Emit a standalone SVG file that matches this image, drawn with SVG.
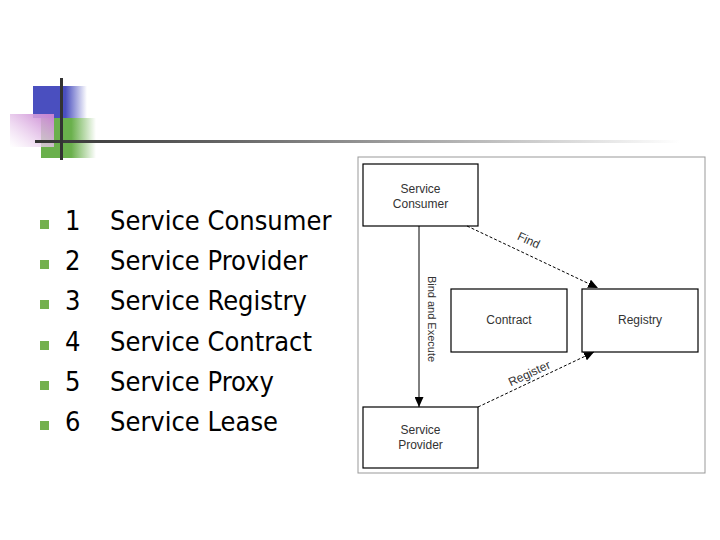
<svg xmlns="http://www.w3.org/2000/svg" width="720" height="540" viewBox="0 0 720 540">
<defs>
<linearGradient id="gBlue" x1="0" y1="0" x2="1" y2="0">
<stop offset="0" stop-color="#4a4fbf"/><stop offset="0.6" stop-color="#4a4fbf"/><stop offset="1" stop-color="#4a4fbf" stop-opacity="0"/>
</linearGradient>
<linearGradient id="gGreen" x1="0" y1="0" x2="1" y2="0">
<stop offset="0" stop-color="#6ab04c"/><stop offset="0.55" stop-color="#6ab04c"/><stop offset="1" stop-color="#6ab04c" stop-opacity="0"/>
</linearGradient>
<linearGradient id="gPink" x1="1" y1="0" x2="0" y2="1">
<stop offset="0" stop-color="#c77fd0"/><stop offset="1" stop-color="#ffffff" stop-opacity="0.6"/>
</linearGradient>
<linearGradient id="gLine" x1="0" y1="0" x2="1" y2="0">
<stop offset="0" stop-color="#333333"/><stop offset="0.3" stop-color="#666666"/><stop offset="1" stop-color="#ffffff"/>
</linearGradient>
<marker id="arr" viewBox="0 0 10 10" refX="10" refY="5" markerWidth="10" markerHeight="9" markerUnits="userSpaceOnUse" orient="auto" preserveAspectRatio="none">
<path d="M0,0 L10,5 L0,10 z" fill="#000"/>
</marker>
<style>
.list{font-family:"DejaVu Sans Condensed","DejaVu Sans",sans-serif;font-size:27px;fill:#000}
.bul{fill:#74b04e}
.box{fill:#fff;stroke:#000;stroke-width:1.2}
.lbl{font-family:"Liberation Sans",Arial,sans-serif;font-size:12px;fill:#333;text-anchor:middle}
.elbl{font-family:"Liberation Sans",Arial,sans-serif;font-size:11px;fill:#333;text-anchor:middle}
.elbl2{font-family:"Liberation Sans",Arial,sans-serif;font-size:12px;fill:#333;text-anchor:middle}
.edge{fill:none;stroke:#000;stroke-width:1}
.dash{stroke-dasharray:3,2}
</style>
</defs>
<g id="decoration">
<rect x="33" y="86" width="54" height="32" fill="url(#gBlue)"/>
<rect x="41" y="118" width="55" height="40" fill="url(#gGreen)"/>
<rect x="10" y="114" width="44" height="33" fill="url(#gPink)"/>
<rect x="35" y="140" width="645" height="3" fill="url(#gLine)"/>
<rect x="60" y="78" width="3" height="82" fill="#333"/>
</g>
<g id="list">
<rect class="bul" x="40" y="220" width="9" height="9"/>
<rect class="bul" x="40" y="260" width="9" height="9"/>
<rect class="bul" x="40" y="300" width="9" height="9"/>
<rect class="bul" x="40" y="341" width="9" height="9"/>
<rect class="bul" x="40" y="381" width="9" height="9"/>
<rect class="bul" x="40" y="421" width="9" height="9"/>
<text class="list" x="65" y="230">1</text>
<text class="list" x="65" y="270">2</text>
<text class="list" x="65" y="310">3</text>
<text class="list" x="65" y="351">4</text>
<text class="list" x="65" y="391">5</text>
<text class="list" x="65" y="431">6</text>
<text class="list" x="110" y="230">Service Consumer</text>
<text class="list" x="110" y="270">Service Provider</text>
<text class="list" x="110" y="310">Service Registry</text>
<text class="list" x="110" y="351">Service Contract</text>
<text class="list" x="110" y="391">Service Proxy</text>
<text class="list" x="110" y="431">Service Lease</text>
</g>
<rect id="frame" x="358" y="157" width="347" height="316" fill="none" stroke="#999" stroke-width="1"/>
<g id="consumer">
<rect class="box" x="363" y="164" width="115" height="62"/>
<text class="lbl" x="420.5" y="193">Service</text>
<text class="lbl" x="420.5" y="208">Consumer</text>
</g>
<g id="contract">
<rect class="box" x="451" y="289" width="116" height="63"/>
<text class="lbl" x="509" y="324">Contract</text>
</g>
<g id="registry">
<rect class="box" x="582" y="289" width="116" height="63"/>
<text class="lbl" x="640" y="324">Registry</text>
</g>
<g id="provider">
<rect class="box" x="363" y="407" width="115" height="61"/>
<text class="lbl" x="420.5" y="434">Service</text>
<text class="lbl" x="420.5" y="449">Provider</text>
</g>
<g id="connectors">
<line class="edge" x1="419" y1="226" x2="419" y2="407" marker-end="url(#arr)"/>
<text class="elbl" transform="translate(428,319) rotate(90)">Bind and Execute</text>
<line class="edge dash" x1="467" y1="226" x2="598" y2="288" marker-end="url(#arr)"/>
<text class="elbl2" transform="translate(527,244) rotate(25)">Find</text>
<line class="edge dash" x1="478" y1="407" x2="594" y2="352" marker-end="url(#arr)"/>
<text class="elbl2" transform="translate(531,377) rotate(-25)">Register</text>
</g>
</svg>
